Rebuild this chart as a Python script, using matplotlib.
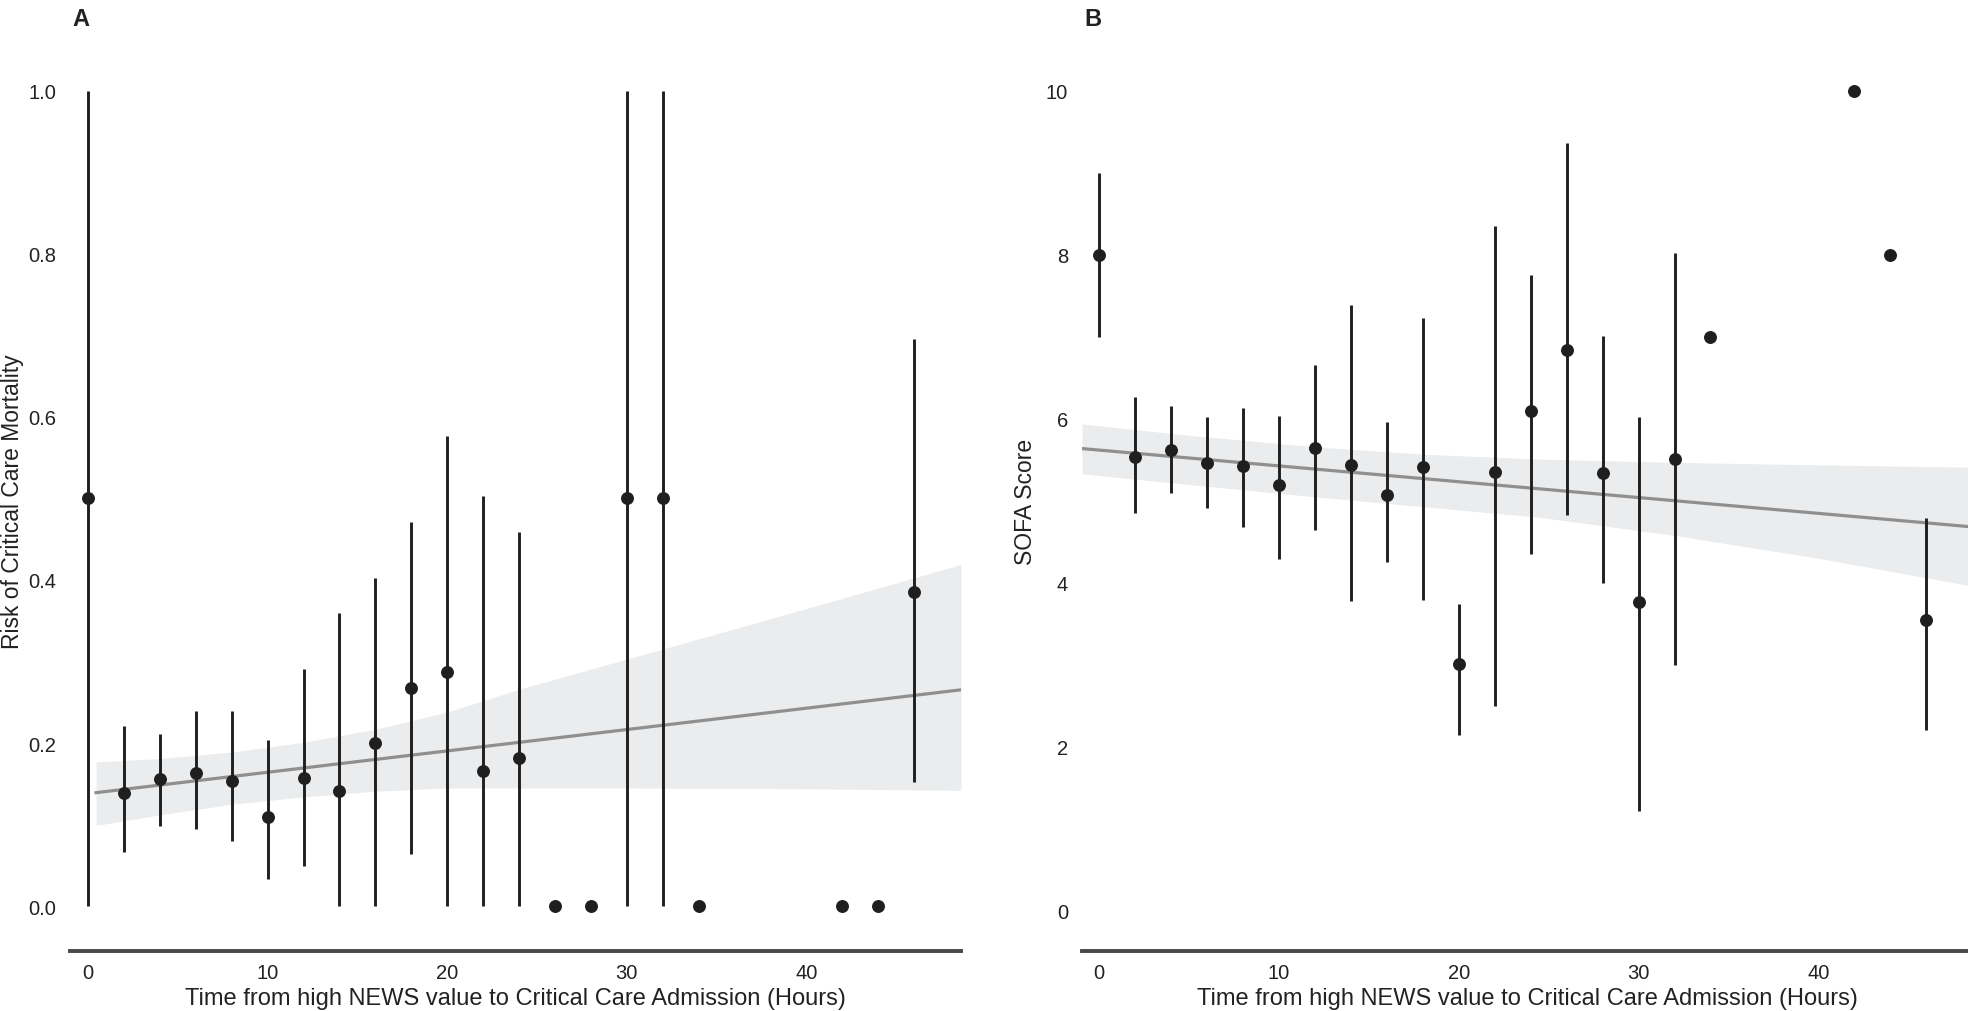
import numpy as np
import matplotlib
matplotlib.use("Agg")
from matplotlib import pyplot as plt

# hours from high NEWS value to critical care admission
hours = [0, 2, 4, 6, 8, 10, 12, 14, 16, 18, 20, 22, 24, 26, 28, 30, 32, 34, 42, 44, 46]

# panel A: risk of critical care mortality (mean and CI)
mort_mean = [0.5, 0.139, 0.156, 0.163, 0.154, 0.109, 0.157, 0.141, 0.200, 0.267, 0.287,
             0.166, 0.182, 0.0, 0.0, 0.5, 0.5, 0.0, 0.0, 0.0, 0.385]
mort_lo = [0.0, 0.066, 0.098, 0.095, 0.080, 0.033, 0.049, 0.0, 0.0, 0.064, 0.0,
           0.0, 0.0, np.nan, np.nan, 0.0, 0.0, np.nan, np.nan, np.nan, 0.152]
mort_hi = [1.0, 0.221, 0.211, 0.239, 0.239, 0.204, 0.291, 0.360, 0.402, 0.471, 0.577,
           0.503, 0.459, np.nan, np.nan, 1.0, 1.0, np.nan, np.nan, np.nan, 0.696]

# panel B: SOFA score (mean and CI)
sofa_mean = [8.0, 5.54, 5.62, 5.46, 5.42, 5.19, 5.64, 5.44, 5.07, 5.41, 3.01,
             5.35, 6.10, 6.84, 5.34, 3.77, 5.51, 7.0, 10.0, 8.0, 3.55]
sofa_lo = [7.0, 4.85, 5.10, 4.91, 4.68, 4.29, 4.65, 3.78, 4.26, 3.79, 2.14,
           2.50, 4.35, 4.83, 4.00, 1.22, 3.00, np.nan, np.nan, np.nan, 2.20]
sofa_hi = [9.0, 6.27, 6.16, 6.02, 6.13, 6.04, 6.66, 7.39, 5.96, 7.23, 3.74,
           8.35, 7.76, 9.36, 7.01, 6.02, 8.02, np.nan, np.nan, np.nan, 4.79]

# fitted regression lines (intercept, slope, x range)
mort_fit = (0.138, 0.00262, 0.45, 48.6)
sofa_fit = (5.62, -0.0193, -0.95, 48.6)

# confidence bands of the fits
mort_band_x = [0.45, 4, 8, 12, 16, 20, 24, 30, 40, 48.6]
mort_band_lo = [0.099, 0.112, 0.125, 0.134, 0.141, 0.145, 0.145, 0.145, 0.144, 0.142]
mort_band_hi = [0.177, 0.181, 0.189, 0.201, 0.217, 0.238, 0.266, 0.303, 0.365, 0.419]

sofa_band_x = [-0.95, 5, 12, 18, 24.5, 32, 40, 48.6]
sofa_band_lo = [5.33, 5.20, 5.05, 4.93, 4.80, 4.58, 4.30, 3.96]
sofa_band_hi = [5.94, 5.80, 5.66, 5.57, 5.51, 5.47, 5.44, 5.41]

font = ["Liberation Sans", "DejaVu Sans"]
plt.rcParams["font.family"] = font

W, H = 1968, 1012
fig = plt.figure(figsize=(W / 100, H / 100), dpi=100)

point_c = "#1f1f1f"
line_c = "#8f8f8f"
band_c = "#ebeced"
spine_c = "#484848"


def panel(left, mean, lo, hi, fit, bx, blo, bhi, xlim, ylim, yticks, ylabel, tag):
    ax = fig.add_axes([left / W, 60 / H, 891 / W, 901 / H])
    ax.fill_between(bx, blo, bhi, color=band_c, lw=0, zorder=1)
    b0, b1, x0, x1 = fit
    fx = np.array([x0, x1])
    ax.plot(fx, b0 + b1 * fx, color=line_c, lw=2.3, zorder=2)
    ax.vlines(hours, lo, hi, color=point_c, lw=2.1, zorder=3)
    ax.plot(hours, mean, "o", color=point_c, ms=8.3, zorder=4)
    ax.set_xlim(*xlim)
    ax.set_ylim(*ylim)
    ax.set_xticks([0, 10, 20, 30, 40])
    ax.set_yticks(yticks)
    if isinstance(yticks[1], float):
        ax.set_yticklabels(["%.1f" % t for t in yticks])
    for s in ["left", "right", "top"]:
        ax.spines[s].set_visible(False)
    ax.spines["bottom"].set_color(spine_c)
    ax.spines["bottom"].set_linewidth(2.8)
    ax.tick_params(length=0, labelsize=14.5, colors="#222222")
    ax.tick_params(axis="x", pad=9)
    ax.tick_params(axis="y", pad=10)
    ax.set_xlabel("Time from high NEWS value to Critical Care Admission (Hours)",
                  fontsize=17, color="#222222", labelpad=3)
    ax.set_ylabel(ylabel, fontsize=16.5, color="#222222")
    ax.patch.set_alpha(0)
    fig.text((left + 2) / W, 1 - 26 / H, tag, fontsize=17, fontweight="bold",
             color="#222222", va="baseline")
    return ax


axA = panel(70, mort_mean, mort_lo, mort_hi, mort_fit, mort_band_x, mort_band_lo, mort_band_hi,
            (-1.0, 48.6), (-0.055, 1.05), [0.0, 0.2, 0.4, 0.6, 0.8, 1.0],
            "Risk of Critical Care Mortality", "A")
axA.yaxis.set_label_coords(-0.052, 0.5)

axB = panel(1082, sofa_mean, sofa_lo, sofa_hi, sofa_fit, sofa_band_x, sofa_band_lo, sofa_band_hi,
            (-0.95, 48.6), (-0.49, 10.5), [0, 2, 4, 6, 8, 10],
            "SOFA Score", "B")
axB.yaxis.set_label_coords(-0.05, 0.5)

fig.savefig("out.png", dpi=100)
